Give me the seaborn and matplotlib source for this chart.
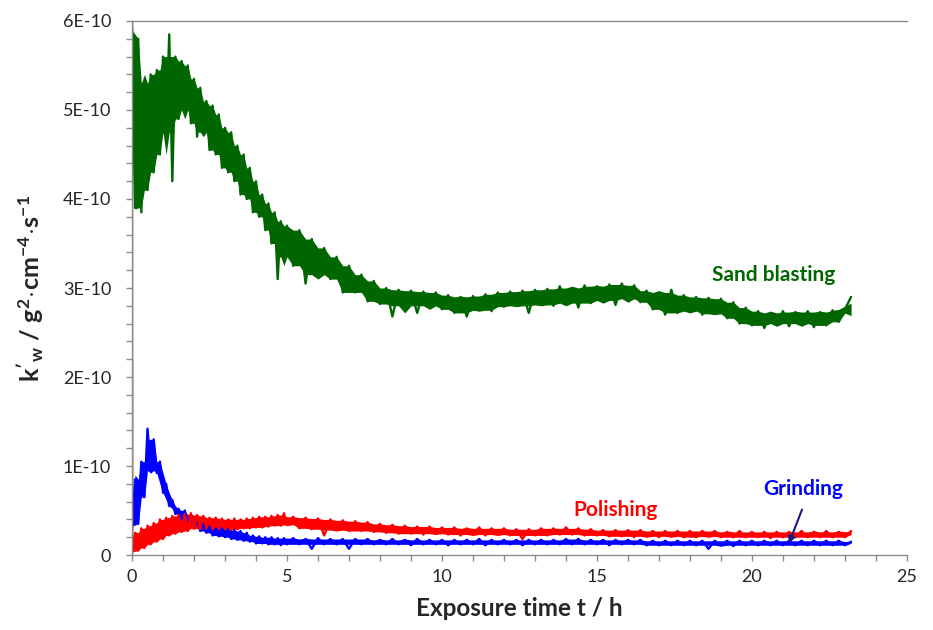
import numpy as np
import pandas as pd
import matplotlib
matplotlib.use("Agg")
import matplotlib.pyplot as plt
import seaborn as sns
from matplotlib.ticker import FuncFormatter, FixedLocator, NullFormatter

# sampling grid (h): 0.1 h steps up to 5 h, 0.2 h steps afterwards
hours = np.round(np.concatenate([np.arange(0, 5.01, 0.1), np.arange(5.2, 23.21, 0.2)]), 1)

# k'w values in units of 1E-10 g2 cm-4 s-1
green_start = 0.0
green_early = [6.0, 3.9, 5.8, 3.85, 5.3, 4.1, 5.4, 4.3, 5.45, 4.5,
               5.6, 4.75, 5.85, 4.2, 5.6, 4.9, 5.55, 5.0, 5.5, 4.85,
               5.35, 4.7, 5.25, 4.75, 5.1, 4.55, 5.05, 4.5, 4.95, 4.35,
               4.8, 4.3, 4.75, 4.2, 4.6, 4.05, 4.5, 4.0, 4.35, 3.85,
               4.2, 3.8, 4.05, 3.65, 3.95, 3.5, 3.85, 3.1, 3.75, 3.35,
               3.7]
green_late = [3.25, 3.65, 3.05, 3.55,
              3.15, 3.45, 3.1, 3.35, 2.95,
              3.25, 2.95, 3.15, 2.85, 3.08,
              2.82, 3.0, 2.68, 2.98, 2.8,
              2.97, 2.72, 2.96, 2.8, 2.95,
              2.76, 2.92, 2.72, 2.9, 2.68,
              2.91, 2.75, 2.93, 2.74, 2.95,
              2.79, 2.96, 2.8, 2.97, 2.72,
              2.98, 2.81, 2.99, 2.8, 3.02,
              2.83, 3.0, 2.78, 3.03, 2.83,
              3.02, 2.86, 3.04, 2.81, 3.05,
              2.88, 3.03, 2.84, 2.97, 2.76,
              2.95, 2.7, 2.98, 2.72, 2.92,
              2.74, 2.9, 2.7, 2.89, 2.71,
              2.88, 2.66, 2.84, 2.6, 2.78,
              2.58, 2.74, 2.55, 2.72, 2.6,
              2.74, 2.57, 2.73, 2.6, 2.74,
              2.56, 2.73, 2.58, 2.75, 2.62,
              2.76, 2.9]

red_start = 2.2
red_early = [0.02, 0.25, 0.05, 0.3, 0.08, 0.33, 0.12, 0.36, 0.15, 0.4,
             0.18, 0.42, 0.22, 0.44, 0.24, 0.45, 0.26, 0.46, 0.27, 0.47,
             0.3, 0.45, 0.29, 0.44, 0.3, 0.42, 0.29, 0.42, 0.3, 0.41,
             0.29, 0.4, 0.28, 0.41, 0.29, 0.4, 0.3, 0.41, 0.3, 0.42,
             0.31, 0.43, 0.31, 0.43, 0.32, 0.44, 0.33, 0.45, 0.33, 0.47,
             0.34]
red_late = [0.43, 0.3, 0.42, 0.29,
            0.41, 0.22, 0.4, 0.28, 0.39,
            0.27, 0.38, 0.27, 0.37, 0.26,
            0.35, 0.25, 0.34, 0.24, 0.33,
            0.24, 0.32, 0.23, 0.32, 0.24,
            0.31, 0.23, 0.31, 0.22, 0.3,
            0.23, 0.31, 0.22, 0.3, 0.23,
            0.3, 0.22, 0.29, 0.18, 0.29,
            0.22, 0.3, 0.22, 0.3, 0.23,
            0.31, 0.23, 0.3, 0.22, 0.29,
            0.22, 0.28, 0.21, 0.28, 0.21,
            0.28, 0.2, 0.28, 0.21, 0.27,
            0.2, 0.27, 0.21, 0.27, 0.2,
            0.27, 0.2, 0.27, 0.21, 0.27,
            0.2, 0.26, 0.2, 0.27, 0.2,
            0.26, 0.2, 0.26, 0.19, 0.26,
            0.2, 0.26, 0.2, 0.27, 0.2,
            0.26, 0.2, 0.27, 0.2, 0.26,
            0.2, 0.27]

blue_early = [0.3, 0.85, 0.35, 1.05, 0.65, 1.42, 0.95, 1.3, 0.92, 1.05,
              0.7, 0.8, 0.55, 0.62, 0.46, 0.52, 0.4, 0.5, 0.37, 0.45,
              0.33, 0.38, 0.27, 0.35, 0.25, 0.32, 0.22, 0.3, 0.21, 0.3,
              0.2, 0.29, 0.18, 0.28, 0.17, 0.27, 0.16, 0.25, 0.15, 0.22,
              0.13, 0.21, 0.13, 0.2, 0.12, 0.2, 0.12, 0.19, 0.11, 0.19,
              0.12]
blue_late = [0.19, 0.12, 0.18, 0.07,
             0.19, 0.12, 0.18, 0.12, 0.18,
             0.07, 0.18, 0.12, 0.18, 0.12,
             0.17, 0.12, 0.18, 0.12, 0.17,
             0.11, 0.18, 0.12, 0.17, 0.12,
             0.17, 0.11, 0.17, 0.12, 0.17,
             0.12, 0.18, 0.11, 0.17, 0.12,
             0.17, 0.12, 0.17, 0.11, 0.17,
             0.12, 0.17, 0.12, 0.17, 0.12,
             0.18, 0.12, 0.18, 0.12, 0.17,
             0.12, 0.17, 0.11, 0.17, 0.12,
             0.17, 0.12, 0.17, 0.11, 0.16,
             0.11, 0.16, 0.11, 0.16, 0.11,
             0.16, 0.11, 0.16, 0.07, 0.16,
             0.11, 0.16, 0.1, 0.16, 0.11,
             0.16, 0.11, 0.16, 0.11, 0.16,
             0.11, 0.16, 0.11, 0.16, 0.11,
             0.16, 0.11, 0.16, 0.11, 0.16,
             0.11, 0.15]

colors = {"Sand blasting": "#006600", "Grinding": "#0000ff", "Polishing": "#ff0000"}


def make_series(name, values, start=None):
    t = list(hours)
    v = list(values)
    if start is not None:
        t = [0.0] + t
        v = [start] + v
    return pd.DataFrame({"t": t, "k": np.array(v) * 1e-10, "series": name})


green = green_early + green_late
red = red_early + red_late
blue = blue_early + blue_late
assert len(green) == len(hours) and len(red) == len(hours) and len(blue) == len(hours)

sns.set_theme(style="ticks")
plt.rcParams["font.family"] = ["Lato", "DejaVu Sans"]
plt.rcParams["mathtext.fontset"] = "custom"
plt.rcParams["mathtext.rm"] = "Lato"
plt.rcParams["mathtext.it"] = "Lato:italic"
plt.rcParams["mathtext.bf"] = "Lato:bold"
plt.rcParams["mathtext.default"] = "bf"

fig = plt.figure(figsize=(9.33, 6.3), dpi=100)
ax = fig.add_axes([0.1415, 0.119, 0.8305, 0.8477])

# noisy signals: solid core of the band, then the trace itself for the spikes
for name, values, start in [("Sand blasting", green, green_start),
                            ("Grinding", blue, None),
                            ("Polishing", red, red_start)]:
    s = pd.Series(values) * 1e-10
    lo = s.rolling(5, center=True, min_periods=1).quantile(0.25)
    hi = s.rolling(5, center=True, min_periods=1).quantile(0.75)
    ax.fill_between(hours, lo, hi, color=colors[name], lw=0)
    sns.lineplot(data=make_series(name, values, start), x="t", y="k",
                 color=colors[name], estimator=None, sort=False, lw=1.7,
                 legend=False, ax=ax)

ax.set_xlim(0, 25)
ax.set_ylim(0, 6e-10)
ax.xaxis.set_major_locator(FixedLocator([0, 5, 10, 15, 20, 25]))
ax.xaxis.set_minor_locator(FixedLocator(list(range(1, 25))))
ax.yaxis.set_major_locator(FixedLocator([i * 1e-10 for i in range(7)]))
ax.yaxis.set_minor_locator(FixedLocator([i * 0.2e-10 for i in range(1, 30)]))
ax.yaxis.set_major_formatter(FuncFormatter(lambda v, p: "0" if abs(v) < 1e-14 else f"{v:.0E}"))
ax.xaxis.set_minor_formatter(NullFormatter())
ax.yaxis.set_minor_formatter(NullFormatter())

gray = "#8c8c8c"
for side in ["left", "bottom", "top"]:
    ax.spines[side].set_color(gray)
    ax.spines[side].set_linewidth(1.0)
ax.spines["right"].set_visible(False)
ax.tick_params(which="both", direction="out", length=4, width=1, color=gray,
               labelsize=13, labelcolor="#262626")
ax.tick_params(axis="y", which="major", pad=11)
ax.tick_params(axis="x", which="major", pad=6)

ax.set_xlabel("Exposure time t / h", fontsize=17.5, fontweight="bold", labelpad=9)
ax.set_ylabel(r"$k'_w\ /\ g^2\!\cdot\! cm^{-4}\!\cdot\! s^{-1}$", fontsize=18, labelpad=12)

ax.text(20.7, 3.15e-10, "Sand blasting", color=colors["Sand blasting"], fontsize=15,
        fontweight="bold", ha="center", va="center")
ax.text(15.6, 0.51e-10, "Polishing", color=colors["Polishing"], fontsize=15,
        fontweight="bold", ha="center", va="center")
ax.text(21.65, 0.74e-10, "Grinding", color=colors["Grinding"], fontsize=15,
        fontweight="bold", ha="center", va="center")
ax.annotate("", xy=(21.16, 0.1e-10), xytext=(21.65, 0.54e-10),
            arrowprops=dict(arrowstyle="-|>", color="#1a1a80", lw=1.5, mutation_scale=10))

fig.savefig("out.png", dpi=100)
